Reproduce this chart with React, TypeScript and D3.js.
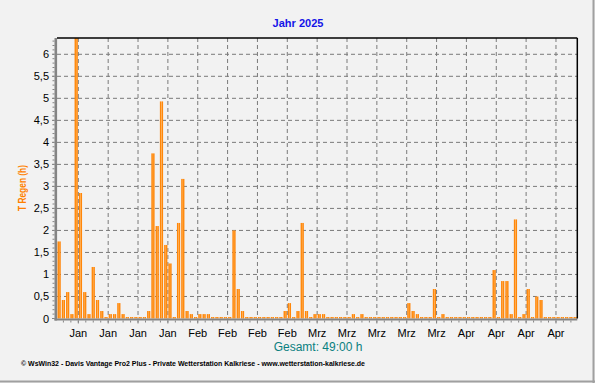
import React from "react";
import * as d3 from "d3";

const W = 595;
const H = 383;

// Daily rain duration (hours), 1 Jan 2025 .. 2 May 2025 (122 days)
const rainHours: number[] = [
  1.75, 0.42, 0.6, 0.1, 6.5, 2.85, 0.6, 0.1, 1.17, 0.42,
  0.17, 0, 0.1, 0.1, 0.35, 0.1, 0, 0, 0, 0,
  0, 0.17, 3.75, 2.1, 4.93, 1.67, 1.25, 0, 2.17, 3.17,
  0.17, 0.1, 0, 0.1, 0.1, 0.1, 0, 0, 0, 0,
  0, 2.0, 0.67, 0.17, 0, 0, 0, 0, 0, 0,
  0, 0, 0, 0.17, 0.35, 0, 0.17, 2.17, 0.17, 0,
  0.1, 0.1, 0.1, 0, 0, 0, 0, 0, 0, 0.1,
  0, 0.1, 0, 0, 0, 0, 0, 0, 0, 0,
  0, 0, 0.35, 0.17, 0.1, 0, 0, 0, 0.67, 0,
  0.1, 0, 0, 0, 0, 0, 0, 0, 0, 0,
  0, 0, 1.1, 0, 0.85, 0.85, 0.1, 2.25, 0, 0.1,
  0.67, 0, 0.5, 0.42, 0, 0, 0, 0, 0, 0,
  0, 0,
];

// Weekly gridlines (Mondays) as day index, with labels
const weekDayIndex: number[] = [5, 12, 19, 26, 33, 40, 47, 54, 61, 68, 75, 82, 89, 96, 103, 110, 117];
const weekLabels: string[] = [
  "Jan", "Jan", "Jan", "Jan", "Feb", "Feb", "Feb", "Feb",
  "Mrz", "Mrz", "Mrz", "Mrz", "Mrz", "Apr", "Apr", "Apr", "Apr",
];
const yTicks: number[] = [0, 0.5, 1, 1.5, 2, 2.5, 3, 3.5, 4, 4.5, 5, 5.5, 6];

const title = "Jahr 2025";
const yTitle = "T Regen (h)";
const totalText = "Gesamt: 49:00 h";
const footer =
  "© WsWin32  -  Davis Vantage Pro2 Plus  -  Private Wetterstation Kalkriese - www.wetterstation-kalkriese.de";

const L = 57;
const R = 577.3;
const T = 38;
const B = 318.5;

export default function App() {
  const x = d3.scaleLinear().domain([0, rainHours.length]).range([L, R]);
  const y = d3.scaleLinear().domain([0, 6.37]).range([B, T]);
  const step = x(1) - x(0);
  const barW = 3.2;
  const fmt = (v: number) => String(v).replace(".", ",");
  const minorY = d3.range(0, 64).map((k) => k / 10);
  const q = (step * 7) / 4;
  const minorX = d3.range(-3, 70).map((k) => x(5) + k * q).filter((mx) => mx > L + 1 && mx < R - 1);

  return (
    <svg
      width={W}
      height={H}
      style={{ position: "absolute", left: 0, top: 0, background: "#F2F2F2" }}
      fontFamily="'Liberation Sans', Arial, sans-serif"
    >
      <defs>
        <linearGradient id="barGrad" x1="0" x2="1" y1="0" y2="0">
          <stop offset="0%" stopColor="#FF7F00" />
          <stop offset="30%" stopColor="#FF8C10" />
          <stop offset="50%" stopColor="#FFAE55" />
          <stop offset="70%" stopColor="#FF8C10" />
          <stop offset="100%" stopColor="#FF7F00" />
        </linearGradient>
        <clipPath id="plotClip">
          <rect x={L} y={T} width={R - L} height={B - T + 2} />
        </clipPath>
      </defs>
      <rect x={0} y={0} width={W} height={H} fill="#F2F2F2" />

      {/* title */}
      <text x={298} y={27} textAnchor="middle" fontSize={11} fontWeight="bold" fill="#1515E8">
        {title}
      </text>

      {/* horizontal grid */}
      {yTicks.filter((t) => t > 0).map((t) => (
        <line key={"hg" + t} x1={L} x2={R} y1={y(t)} y2={y(t)} stroke="#7A7A7A" strokeWidth={1} strokeDasharray="4,3" />
      ))}
      {/* vertical grid */}
      {weekDayIndex.map((d) => (
        <line key={"vg" + d} x1={x(d)} x2={x(d)} y1={T} y2={B} stroke="#7A7A7A" strokeWidth={1} strokeDasharray="4,3" />
      ))}

      {/* bars */}
      <g clipPath="url(#plotClip)">
        {rainHours.map((v, i) => {
          const cx = x(i + 0.5);
          const top = Math.min(y(v), B - 1.5);
          return (
            <rect key={"b" + i} x={cx - barW / 2} y={top} width={barW} height={B - top} fill="url(#barGrad)" />
          );
        })}
      </g>

      {/* axes */}
      <line x1={L - 1.2} x2={L - 1.2} y1={T} y2={B + 2} stroke="#848484" strokeWidth={2.6} />
      <line x1={L - 2.5} x2={R} y1={B + 1} y2={B + 1} stroke="#848484" strokeWidth={2.2} />
      <line x1={L} x2={R} y1={T} y2={T} stroke="#000" strokeWidth={1.5} />
      <line x1={R} x2={R} y1={T} y2={B} stroke="#000" strokeWidth={1.5} />

      {/* y minor ticks */}
      {minorY.map((t) => (
        <line key={"ym" + t} x1={L - 4.5} x2={L - 2.5} y1={y(t)} y2={y(t)} stroke="#848484" strokeWidth={1} />
      ))}
      {yTicks.map((t) => (
        <line key={"yM" + t} x1={L - 5} x2={L - 2.5} y1={y(t)} y2={y(t)} stroke="#848484" strokeWidth={1} />
      ))}
      {/* y labels */}
      {yTicks.map((t) => (
        <text key={"yl" + t} x={49} y={y(t) + 4} textAnchor="end" fontSize={11} fill="#000">
          {fmt(t)}
        </text>
      ))}

      {/* x minor ticks */}
      {minorX.map((mx, k) => (
        <line key={"xm" + k} x1={mx} x2={mx} y1={B + 2} y2={B + 4} stroke="#848484" strokeWidth={1} />
      ))}
      {weekDayIndex.map((d) => (
        <line key={"xM" + d} x1={x(d)} x2={x(d)} y1={B + 2} y2={B + 5} stroke="#848484" strokeWidth={1} />
      ))}
      {weekDayIndex.map((d, k) => (
        <text key={"xl" + d} x={x(d)} y={337} textAnchor="middle" fontSize={11} fill="#000">
          {weekLabels[k]}
        </text>
      ))}

      {/* y title */}
      <text
        transform={`translate(26,188) rotate(-90)`}
        textAnchor="middle"
        fontSize={10}
        fontWeight="bold"
        fill="#FF8000"
        textLength={46}
        lengthAdjust="spacingAndGlyphs"
      >
        {yTitle}
      </text>

      {/* total */}
      <text x={318} y={351} textAnchor="middle" fontSize={12} fill="#0A8080">
        {totalText}
      </text>

      {/* footer */}
      <text x={21} y={366} fontSize={7} fontWeight="bold" fill="#000" textLength={344} lengthAdjust="spacingAndGlyphs">
        {footer}
      </text>

      {/* frame */}
      <line x1={W - 1.5} x2={W - 1.5} y1={0} y2={H} stroke="#A0A0A0" strokeWidth={2} />
      <line x1={0} x2={W} y1={H - 1.5} y2={H - 1.5} stroke="#A0A0A0" strokeWidth={2} />
    </svg>
  );
}
